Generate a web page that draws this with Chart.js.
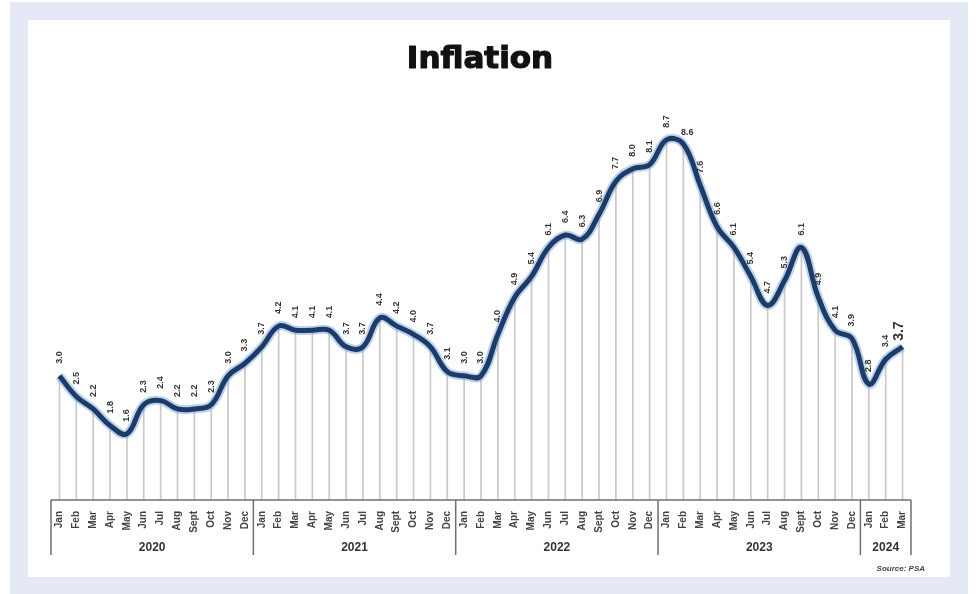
<!DOCTYPE html>
<html>
<head>
<meta charset="utf-8">
<title>Inflation</title>
<script src="https://cdn.jsdelivr.net/npm/chart.js@4/dist/chart.umd.min.js"></script>
<style>
  html, body { margin: 0; padding: 0; background: #ffffff; }
  body { width: 977px; height: 594px; position: relative; overflow: hidden; }
  #outer { position: absolute; left: 10px; top: 2px; width: 958px; height: 592px; background: #e5e9f5; }
  #panel { position: absolute; left: 28px; top: 20px; width: 922px; height: 557px; background: #ffffff; }
  #mainChart { display: block; width: 922px; height: 557px; }
</style>
</head>
<body>
<div id="outer"></div>
<div id="panel"><canvas id="mainChart" width="922" height="557"></canvas></div>
<script>
// 월 라벨 (2020 Jan ~ 2024 Mar)
const months = [
  'Jan','Feb','Mar','Apr','May','Jun','Jul','Aug','Sept','Oct','Nov','Dec',
  'Jan','Feb','Mar','Apr','May','Jun','Jul','Aug','Sept','Oct','Nov','Dec',
  'Jan','Feb','Mar','Apr','May','Jun','Jul','Aug','Sept','Oct','Nov','Dec',
  'Jan','Feb','Mar','Apr','May','Jun','Jul','Aug','Sept','Oct','Nov','Dec',
  'Jan','Feb','Mar'
];

// 연도와 각 연도의 개월 수
const years = ['2020', '2021', '2022', '2023', '2024'];
const monthsPerYear = [12, 12, 12, 12, 3];

// 인플레이션 값 (%)
const inflation = [
  3.0, 2.5, 2.2, 1.8, 1.6, 2.3, 2.4, 2.2, 2.2, 2.3, 3.0, 3.3,
  3.7, 4.2, 4.1, 4.1, 4.1, 3.7, 3.7, 4.4, 4.2, 4.0, 3.7, 3.1,
  3.0, 3.0, 4.0, 4.9, 5.4, 6.1, 6.4, 6.3, 6.9, 7.7, 8.0, 8.1,
  8.7, 8.6, 7.6, 6.6, 6.1, 5.4, 4.7, 5.3, 6.1, 4.9, 4.1, 3.9,
  2.8, 3.4, 3.7
];

const titleText = 'Inflation';
const sourceText = 'Source: PSA';

// 제목, 축 박스, 연도, 데이터 라벨 그리기
const decorPlugin = {
  id: 'decor',
  afterDatasetsDraw(chart) {
    const ctx = chart.ctx;
    const xs = chart.scales.x;
    const area = chart.chartArea;
    const meta = chart.getDatasetMeta(2);

    // 제목 (굵게 보이도록 fill + stroke)
    ctx.save();
    ctx.font = 'bold 31px "DejaVu Sans", "Liberation Sans", Arial, sans-serif';
    ctx.textAlign = 'center';
    ctx.textBaseline = 'middle';
    ctx.fillStyle = '#111';
    ctx.strokeStyle = '#111';
    ctx.lineWidth = 1.2;
    ctx.lineJoin = 'round';
    ctx.fillText(titleText, 452, 40);
    ctx.strokeText(titleText, 452, 40);
    ctx.restore();

    // 데이터 라벨
    ctx.save();
    ctx.fillStyle = '#333';
    meta.data.forEach((pt, i) => {
      const txt = inflation[i].toFixed(1);
      const last = i === inflation.length - 1;
      ctx.save();
      if (i === 37) {
        ctx.font = 'bold 9px "Liberation Sans", Arial, sans-serif';
        ctx.textAlign = 'center';
        ctx.textBaseline = 'bottom';
        ctx.fillText(txt, pt.x + 4, pt.y - 7);
      } else {
        ctx.font = last ? 'bold 14px "Liberation Sans", Arial, sans-serif'
                        : 'bold 9px "Liberation Sans", Arial, sans-serif';
        ctx.translate(last ? pt.x - 3 : pt.x, pt.y - (last ? 6 : 12));
        ctx.rotate(-Math.PI / 2);
        ctx.textAlign = 'left';
        ctx.textBaseline = 'middle';
        ctx.fillText(txt, 0, 0);
      }
      ctx.restore();
    });
    ctx.restore();

    // 축 박스
    const bottom = area.bottom;
    const sepBottom = bottom + 55;
    ctx.save();
    ctx.strokeStyle = '#6f6f6f';
    ctx.lineWidth = 1.5;
    ctx.beginPath();
    ctx.moveTo(area.left, bottom);
    ctx.lineTo(area.right, bottom);
    ctx.stroke();

    let idx = 0;
    const edges = [area.left];
    monthsPerYear.forEach(n => {
      idx += n;
      if (idx < months.length) {
        edges.push((xs.getPixelForValue(idx - 1) + xs.getPixelForValue(idx)) / 2);
      } else {
        edges.push(area.right);
      }
    });
    edges.forEach(x => {
      ctx.beginPath();
      ctx.moveTo(x, bottom);
      ctx.lineTo(x, sepBottom);
      ctx.stroke();
    });

    ctx.fillStyle = '#333';
    ctx.font = 'bold 12px "Liberation Sans", Arial, sans-serif';
    ctx.textAlign = 'center';
    ctx.textBaseline = 'middle';
    years.forEach((y, i) => {
      ctx.fillText(y, (edges[i] + edges[i + 1]) / 2, bottom + 48);
    });

    ctx.font = 'italic bold 8px "Liberation Sans", Arial, sans-serif';
    ctx.textAlign = 'right';
    ctx.fillStyle = '#444';
    ctx.fillText(sourceText, 897, 549);
    ctx.restore();
  }
};

const ctx = document.getElementById('mainChart').getContext('2d');
new Chart(ctx, {
  type: 'line',
  data: {
    labels: months,
    datasets: [
      {
        type: 'bar',
        data: inflation,
        backgroundColor: '#c9c9c9',
        barThickness: 1,
        order: 3
      },
      {
        data: inflation,
        borderColor: 'rgba(120, 165, 215, 0.5)',
        borderWidth: 9,
        pointRadius: 0,
        tension: 0.4,
        fill: false,
        order: 2
      },
      {
        data: inflation,
        borderColor: '#1d3b68',
        borderWidth: 5,
        pointRadius: 0,
        tension: 0.4,
        fill: false,
        order: 1
      }
    ]
  },
  options: {
    responsive: false,
    animation: false,
    layout: { padding: { left: 23, right: 39, top: 66, bottom: 0 } },
    scales: {
      x: {
        grid: { display: false },
        border: { display: false },
        ticks: {
          autoSkip: false,
          minRotation: 90,
          maxRotation: 90,
          padding: 3,
          color: '#444',
          font: { family: '"Liberation Sans", Arial, sans-serif', size: 10, weight: 'bold' }
        },
        afterFit: s => { s.height = 77; }
      },
      y: {
        display: false,
        min: 0,
        max: 10
      }
    },
    plugins: {
      legend: { display: false },
      tooltip: { enabled: false },
      title: { display: false }
    }
  },
  plugins: [decorPlugin]
});
</script>
</body>
</html>
